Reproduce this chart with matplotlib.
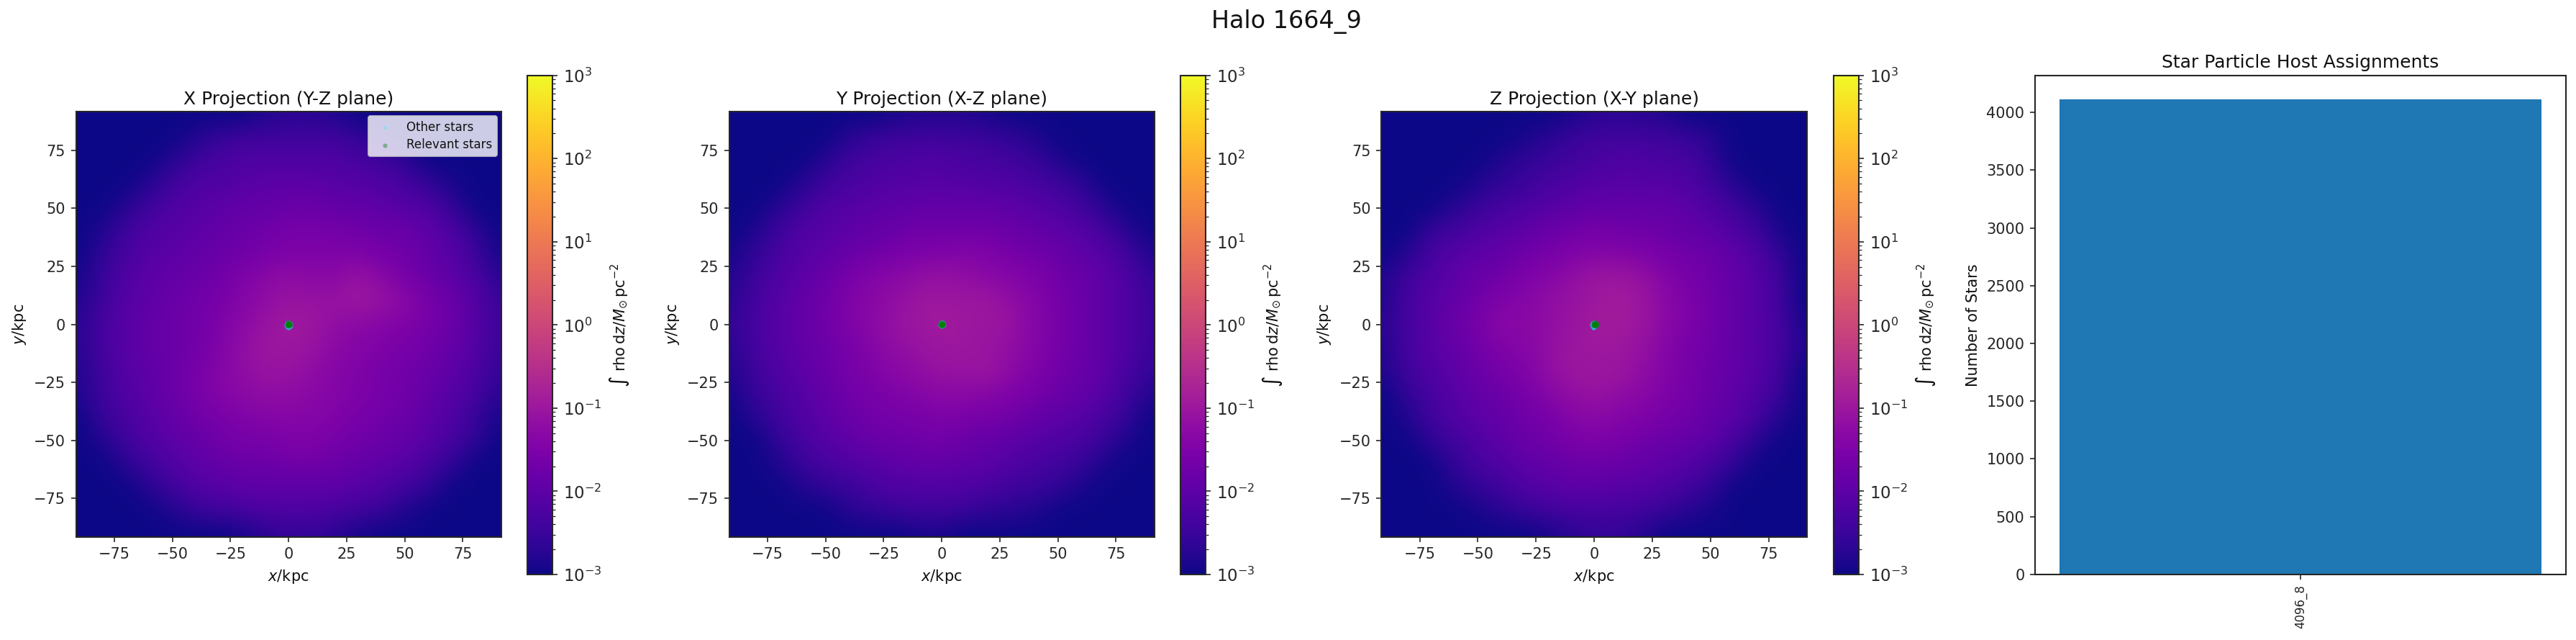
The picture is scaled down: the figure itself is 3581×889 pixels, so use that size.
import numpy as np
import matplotlib
matplotlib.use("Agg")
import matplotlib.pyplot as plt
from matplotlib.colors import LogNorm

W, H = 3581, 889
DPI = 150

TITLE = "Halo 1664_9"
PANEL_TITLES = ["X Projection (Y-Z plane)", "Y Projection (X-Z plane)", "Z Projection (X-Y plane)"]
HOSTS = ["4096_8"]
HOST_COUNTS = [4115]
CB_TICKS = [1e-3, 1e-2, 1e-1, 1e0, 1e1, 1e2, 1e3]

# log10 surface density in tenths of a dex at 10 kpc spacing
# rows: y = +90 ... -90, columns: x = -90 ... +90
DENS_X = [
 [-30,-30,-30,-30,-30,-30,-30,-30,-28,-27,-27,-28,-30,-30,-30,-30,-30,-30,-30],
 [-30,-30,-30,-30,-30,-28,-25,-24,-24,-24,-24,-24,-25,-28,-30,-30,-30,-30,-30],
 [-30,-30,-30,-30,-27,-24,-23,-22,-22,-22,-22,-22,-23,-24,-26,-30,-30,-30,-30],
 [-30,-30,-30,-27,-24,-22,-22,-21,-20,-20,-20,-21,-21,-22,-23,-25,-29,-30,-30],
 [-30,-30,-27,-24,-22,-21,-20,-19,-19,-18,-18,-19,-19,-20,-21,-22,-25,-30,-30],
 [-30,-28,-24,-22,-21,-20,-19,-18,-17,-16,-16,-16,-17,-18,-18,-20,-22,-26,-30],
 [-30,-26,-23,-21,-20,-19,-18,-17,-16,-15,-15,-15,-15,-16,-17,-19,-21,-24,-29],
 [-29,-25,-22,-20,-19,-18,-17,-15,-13,-12,-13,-13,-11,-13,-16,-18,-20,-22,-27],
 [-28,-24,-21,-20,-18,-17,-16,-14,-12,-11,-11,-11,-10,-11,-13,-16,-18,-21,-25],
 [-27,-23,-21,-19,-18,-17,-15,-13,-11, -9,-10,-12,-13,-14,-15,-16,-18,-21,-25],
 [-27,-23,-21,-19,-18,-17,-15,-12,-10,-10,-11,-13,-14,-15,-16,-17,-19,-21,-25],
 [-28,-24,-21,-20,-18,-16,-14,-12,-11,-11,-12,-14,-15,-16,-17,-18,-20,-22,-26],
 [-28,-24,-22,-20,-18,-16,-14,-13,-12,-12,-13,-14,-15,-16,-17,-19,-21,-23,-27],
 [-30,-25,-23,-21,-19,-17,-16,-15,-14,-14,-14,-15,-16,-17,-18,-20,-22,-25,-29],
 [-30,-28,-24,-22,-20,-19,-17,-16,-16,-15,-15,-16,-17,-18,-19,-21,-23,-26,-30],
 [-30,-30,-27,-24,-22,-20,-19,-18,-18,-17,-17,-18,-19,-20,-21,-23,-26,-30,-30],
 [-30,-30,-30,-27,-24,-22,-21,-20,-20,-20,-20,-20,-21,-22,-24,-26,-30,-30,-30],
 [-30,-30,-30,-30,-28,-25,-24,-23,-22,-22,-22,-23,-24,-25,-28,-30,-30,-30,-30],
 [-30,-30,-30,-30,-30,-30,-30,-29,-27,-26,-26,-27,-29,-30,-30,-30,-30,-30,-30],
]
DENS_Y = [
 [-30,-30,-30,-30,-30,-30,-30,-29,-28,-28,-28,-29,-30,-30,-30,-30,-30,-30,-30],
 [-30,-30,-30,-30,-30,-27,-25,-24,-24,-24,-24,-25,-26,-28,-30,-30,-30,-30,-30],
 [-30,-30,-30,-30,-27,-24,-23,-23,-22,-22,-23,-23,-24,-25,-28,-30,-30,-30,-30],
 [-30,-30,-30,-27,-24,-23,-22,-21,-21,-21,-21,-22,-22,-23,-24,-26,-30,-30,-30],
 [-30,-30,-27,-24,-22,-21,-20,-20,-19,-19,-19,-19,-20,-21,-22,-24,-27,-30,-30],
 [-30,-28,-24,-22,-21,-20,-19,-18,-17,-17,-17,-17,-18,-19,-20,-21,-23,-27,-30],
 [-29,-26,-23,-21,-20,-18,-17,-16,-15,-15,-14,-15,-16,-17,-18,-20,-21,-24,-28],
 [-28,-24,-22,-20,-18,-16,-14,-13,-12,-11,-12,-13,-14,-15,-17,-18,-20,-22,-26],
 [-27,-23,-21,-19,-17,-15,-13,-12,-10,-10,-10,-10,-12,-14,-16,-18,-20,-22,-25],
 [-26,-23,-21,-19,-17,-15,-13,-11,-10, -9,-10,-10,-11,-14,-16,-18,-20,-22,-25],
 [-27,-23,-21,-19,-18,-16,-14,-12,-11,-10,-10,-11,-12,-14,-16,-18,-20,-22,-25],
 [-28,-24,-22,-20,-18,-16,-15,-13,-12,-11,-11,-10,-13,-15,-17,-18,-20,-23,-26],
 [-29,-25,-23,-21,-19,-17,-16,-15,-14,-13,-13,-14,-15,-16,-18,-19,-21,-24,-28],
 [-30,-27,-24,-22,-20,-18,-17,-16,-16,-15,-16,-16,-17,-19,-20,-21,-23,-26,-30],
 [-30,-30,-26,-23,-21,-20,-18,-18,-17,-17,-18,-19,-20,-21,-22,-23,-25,-29,-30],
 [-30,-30,-28,-25,-23,-22,-21,-20,-19,-19,-20,-20,-22,-23,-24,-25,-29,-30,-30],
 [-30,-30,-30,-28,-26,-25,-23,-22,-22,-22,-22,-23,-24,-25,-26,-29,-30,-30,-30],
 [-30,-30,-30,-30,-30,-27,-26,-25,-24,-24,-25,-26,-27,-28,-30,-30,-30,-30,-30],
 [-30,-30,-30,-30,-30,-30,-30,-30,-29,-29,-30,-30,-30,-30,-30,-30,-30,-30,-30],
]
DENS_Z = [
 [-30,-30,-30,-30,-30,-30,-30,-30,-29,-27,-27,-27,-28,-30,-30,-30,-30,-30,-30],
 [-30,-30,-30,-30,-30,-30,-29,-27,-25,-24,-24,-24,-24,-25,-27,-30,-30,-30,-30],
 [-30,-30,-30,-30,-30,-28,-26,-25,-24,-23,-22,-22,-23,-23,-26,-30,-30,-30,-30],
 [-30,-30,-30,-30,-28,-26,-25,-23,-22,-21,-21,-21,-21,-22,-24,-27,-30,-30,-30],
 [-30,-30,-30,-27,-25,-23,-22,-21,-20,-19,-19,-19,-19,-20,-22,-24,-27,-30,-30],
 [-30,-30,-25,-24,-22,-21,-20,-18,-17,-16,-17,-17,-18,-19,-20,-22,-24,-29,-30],
 [-30,-27,-23,-21,-20,-19,-17,-16,-15,-14,-14,-15,-16,-17,-18,-20,-22,-26,-30],
 [-28,-24,-22,-20,-18,-17,-15,-14,-12,-10,-10,-11,-14,-16,-17,-19,-21,-24,-30],
 [-28,-23,-21,-19,-17,-15,-14,-12,-11,-10, -9,-10,-13,-15,-17,-19,-21,-24,-30],
 [-27,-23,-21,-18,-16,-13,-13,-12,-11, -9, -9,-10,-13,-15,-17,-19,-21,-23,-29],
 [-28,-23,-21,-19,-17,-15,-14,-12,-10,-10,-10,-11,-14,-16,-17,-19,-21,-23,-28],
 [-28,-24,-22,-20,-18,-16,-15,-12,-10,-10,-10,-12,-14,-16,-18,-19,-21,-24,-30],
 [-30,-26,-23,-21,-19,-18,-16,-14,-12,-11,-12,-13,-15,-16,-18,-20,-22,-25,-30],
 [-30,-28,-24,-22,-20,-19,-17,-16,-14,-13,-14,-15,-16,-17,-19,-20,-23,-28,-30],
 [-30,-30,-26,-24,-22,-20,-18,-17,-16,-15,-16,-17,-18,-19,-20,-23,-27,-30,-30],
 [-30,-30,-30,-26,-23,-22,-20,-19,-18,-18,-18,-19,-20,-21,-23,-26,-30,-30,-30],
 [-30,-30,-30,-28,-26,-24,-22,-21,-20,-20,-21,-21,-22,-24,-26,-30,-30,-30,-30],
 [-30,-30,-30,-30,-29,-27,-25,-24,-23,-23,-23,-24,-25,-27,-29,-30,-30,-30,-30],
 [-30,-30,-30,-30,-30,-30,-30,-29,-27,-26,-26,-27,-30,-30,-30,-30,-30,-30,-30],
]
DENSITIES = [DENS_X, DENS_Y, DENS_Z]

# star particle positions (kpc) near the halo centre, per panel
OTHER_X = [[-1.2, -0.9, -0.4, 0.2, 0.8, 1.2, 1.1, 0.7, 0.1, -0.6, -1.1, -1.3, -0.5, 0.4, -1.0, 0.9],
           [-1.1, -0.8, -0.3, 0.3, 0.8, 1.1, 0.8, 0.3, -0.3, -0.8, -1.1, 0.0, -0.6, 0.6, 0.0, 0.6],
           [-1.2, -0.9, -0.5, 0.1, 0.8, 1.3, 1.1, 0.7, 0.1, -0.6, -1.1, -1.3, -0.5, 0.4, -1.0, -0.4]]
OTHER_Y = [[0.0, 0.8, 1.2, 1.2, 0.9, 0.1, -0.7, -1.2, -1.5, -1.5, -1.1, -0.5, -1.8, -1.7, 0.5, -1.0],
           [0.0, 0.8, 1.1, 1.1, 0.8, 0.0, -0.8, -1.1, -1.1, -0.8, -0.3, 1.2, 0.9, -0.9, -1.2, 1.0],
           [0.0, 0.8, 1.1, 1.2, 0.9, 0.2, -0.6, -1.1, -1.3, -1.5, -1.1, -0.5, -1.7, -1.4, 0.5, -1.8]]
REL_X = [[0.0, 0.7, -0.7, 0.4, -0.4, 0.8, -0.8, 0.3, -0.3, 0.6, -0.6, 0.0, 0.4, -0.4, 0.0, 0.2, -0.2, 0.5],
         [0.0, 0.6, -0.6, 0.3, -0.3, 0.7, -0.7, 0.2, -0.2, 0.5, -0.5, 0.0, 0.4, -0.4, 0.0, 0.2, -0.2, 0.5],
         [0.3, 1.0, -0.4, 0.7, -0.1, 1.1, -0.5, 0.6, 0.0, 0.9, -0.3, 0.3, 0.7, -0.1, 0.3, 0.5, 0.1, 0.8]]
REL_Y = [[0.0, 0.4, 0.4, 0.8, 0.8, -0.2, -0.2, -0.7, -0.7, -0.6, -0.6, 0.2, 0.0, 0.0, -0.4, 0.4, 0.4, -0.3],
         [0.0, 0.4, 0.4, 0.7, 0.7, -0.3, -0.3, -0.7, -0.7, 0.0, 0.0, -0.3, -0.5, -0.5, 0.5, 0.3, -0.2, 0.2],
         [0.0, 0.4, 0.4, 0.8, 0.8, -0.2, -0.2, -0.7, -0.7, -0.6, -0.6, 0.2, 0.0, 0.0, -0.4, 0.4, 0.4, -0.3]]

X_GRID_EDGE = 95
LIM = 91.5
INK = "#262626"

plt.rcParams.update({
    "font.family": "DejaVu Sans",
    "font.size": 10,
    "axes.edgecolor": INK,
    "axes.linewidth": 1.0,
    "xtick.color": INK, "ytick.color": INK,
    "text.color": "#111111",
    "axes.labelcolor": "#111111",
    "mathtext.default": "it",
})

fig = plt.figure(figsize=(W / DPI, H / DPI), dpi=DPI)


def box(l, t, r, b):
    return [l / W, 1 - b / H, (r - l) / W, (b - t) / H]


AX_BOX = [(105.7, 155.3, 696.7, 745.7), (1013.7, 155.3, 1604.7, 745.7), (1920.3, 155.3, 2512.0, 745.7)]
CB_BOX = [(732.7, 104.7, 768.3, 798.0), (1640.7, 104.7, 1676.3, 798.0), (2548.5, 104.7, 2584.0, 798.0)]
norm = LogNorm(vmin=1e-3, vmax=1e3)

for i in range(3):
    ax = fig.add_axes(box(*AX_BOX[i]))
    field = 10.0 ** (np.array(DENSITIES[i], dtype=float) / 10.0)
    im = ax.imshow(field, cmap="plasma", norm=norm, origin="upper", aspect="auto",
                   extent=[-X_GRID_EDGE, X_GRID_EDGE, -X_GRID_EDGE, X_GRID_EDGE],
                   interpolation="bicubic", interpolation_stage="rgba")
    ax.scatter(OTHER_X[i], OTHER_Y[i], s=5, c="cyan", alpha=0.3, linewidths=0, label="Other stars", zorder=3)
    ax.scatter(REL_X[i], REL_Y[i], s=9, c="green", alpha=0.4, linewidths=0, label="Relevant stars", zorder=4)
    ax.set_xlim(-LIM, LIM)
    ax.set_ylim(-LIM, LIM)
    ax.set_xticks([-75, -50, -25, 0, 25, 50, 75])
    ax.set_yticks([-75, -50, -25, 0, 25, 50, 75])
    ax.set_xlabel("$x$/kpc", fontsize=10)
    ax.set_ylabel("$y$/kpc", fontsize=10)
    ax.set_title(PANEL_TITLES[i], fontsize=12, pad=5)
    ax.tick_params(labelsize=10)
    if i == 0:
        ax.legend(loc="upper right", fontsize=8, framealpha=0.8, borderaxespad=0.35, labelspacing=0.4)
    cax = fig.add_axes(box(*CB_BOX[i]))
    cb = fig.colorbar(im, cax=cax)
    cb.set_ticks(CB_TICKS)
    cb.set_label(r"$\int\ \mathrm{rho}\,\mathrm{d}z/M_{\odot}\,\mathrm{pc}^{-2}$", fontsize=10, labelpad=4)
    cb.ax.tick_params(labelsize=11)

ax4 = fig.add_axes(box(2829, 104.7, 3567, 797.7))
ax4.bar(HOSTS, HOST_COUNTS, color="#1f77b4")
ax4.set_title("Star Particle Host Assignments", fontsize=12, pad=5)
ax4.set_ylabel("Number of Stars", fontsize=10)
ax4.tick_params(axis="x", labelrotation=90, labelsize=8)
ax4.tick_params(axis="y", labelsize=10)

fig.text(1788 / W, 1 - 30 / H, TITLE, ha="center", va="center", fontsize=16)
fig.savefig("out.png", dpi=DPI, facecolor="white")
